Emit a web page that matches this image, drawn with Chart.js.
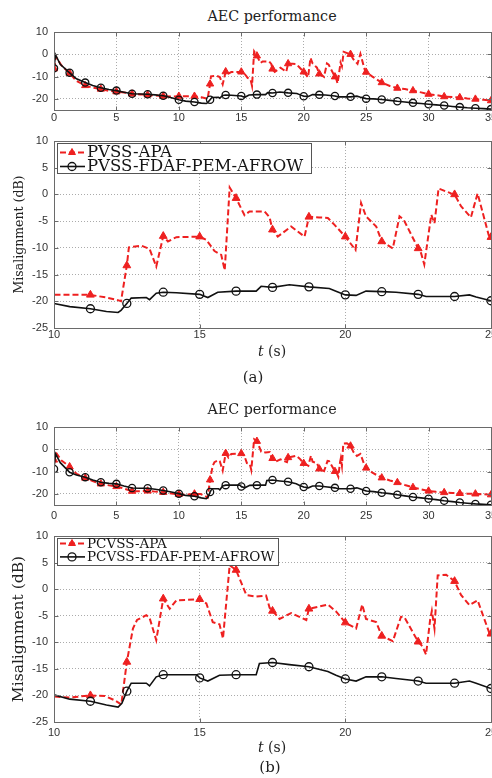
<!DOCTYPE html>
<html>
<head>
<meta charset="utf-8">
<script src="https://cdn.jsdelivr.net/npm/chart.js"></script>
<style>
  html, body { margin: 0; padding: 0; background: #fff; }
  body { width: 492px; height: 778px; overflow: hidden; position: relative; }
  canvas { position: absolute; left: 0; }
  .lbl { position: absolute; width: 260px; margin-left: -130px; height: 20px; line-height: 20px; margin-top: -10px;
         text-align: center; font-family: "DejaVu Serif", serif; color: #222; white-space: nowrap; }
</style>
</head>
<body>
<div class="lbl" style="left:272px;top:16px;font-size:14.3px">AEC performance</div>
<canvas id="a1" width="511" height="128" style="top:0px"></canvas>
<canvas id="a2" width="511" height="234" style="top:128px"></canvas>
<div class="lbl" style="left:272px;top:351px;font-size:14px"><i>t</i> (s)</div>
<div class="lbl" style="left:253px;top:377px;font-size:15px">(a)</div>

<div class="lbl" style="left:272px;top:409px;font-size:14.3px">AEC performance</div>
<canvas id="b1" width="511" height="128" style="top:395px"></canvas>
<canvas id="b2" width="511" height="233" style="top:523px"></canvas>
<div class="lbl" style="left:272px;top:747px;font-size:14px"><i>t</i> (s)</div>
<div class="lbl" style="left:270px;top:767px;font-size:15px">(b)</div>

<script>
// legend names
const labelsA = ['PVSS-APA', 'PVSS-FDAF-PEM-AFROW'];
const labelsB = ['PCVSS-APA', 'PCVSS-FDAF-PEM-AFROW'];

// tick values
const overviewXTicks = [0, 5, 10, 15, 20, 25, 30, 35];
const overviewYTicks = [-20, -10, 0, 10];
const zoomXTicks = [10, 15, 20, 25];
const zoomYTicks = [-25, -20, -15, -10, -5, 0, 5, 10];

// misalignment (dB) vs t (s), case (a)
const apaA = [[0,-6.5],[0.15,-1],[0.6,-5],[1.25,-8.5],[1.8,-12],[2.5,-14],[3.1,-15],[3.75,-15.6],[4.4,-16.4],[5,-16.8],
  [5.6,-17.1],[6.25,-17.8],[6.9,-18],[7.5,-18.2],[8.1,-18.5],[8.75,-18.8],[9.4,-19],[10,-18.8],[10.6,-18.8],[11.25,-18.8],
  [11.8,-19.3],[12.14,-19.7],[12.3,-20],[12.5,-13.3],[12.57,-9.9],[13.0,-9.6],[13.28,-10.2],[13.51,-13.5],[13.75,-7.8],[13.91,-8.8],
  [14.2,-8],[15,-7.9],[15.23,-8.5],[15.51,-10.6],[15.74,-11.3],[15.86,-14.2],[16.03,1.3],[16.25,-0.7],[16.54,-3.9],[16.71,-3.2],
  [17.23,-3.2],[17.4,-4.3],[17.5,-6.6],[17.68,-7.9],[18.14,-6],[18.6,-7.9],[18.75,-4.2],[19.1,-4.3],[19.4,-4.4],[19.63,-5.7],
  [20,-7.9],[20.35,-10.4],[20.54,-1.6],[20.71,-4.1],[21.06,-6],[21.25,-8.8],[21.63,-10.1],[21.86,-4.1],[22.0,-4.7],[22.5,-10.1],
  [22.6,-11],[22.71,-13.1],[22.95,-3.8],[23.06,-5.4],[23.2,1.1],[23.63,0.2],[23.75,0],[23.97,-2.2],[24.31,-4.3],[24.54,0.2],
  [24.92,-7.6],[25,-8],[25.5,-10],[26.25,-12.7],[26.9,-14.2],[27.5,-15.2],[28.1,-15.6],[28.75,-16.3],[29.4,-17.1],[30,-17.9],
  [30.6,-18.3],[31.25,-19],[31.9,-19.2],[32.5,-19.4],[33.1,-19.8],[33.75,-20.1],[34.4,-20.4],[35,-20.8]];
const afrowA = [[0,-6.3],[0.12,-0.2],[0.5,-4.5],[1.25,-8.3],[1.8,-11],[2.5,-12.7],[3.1,-14],[3.75,-15],[4.4,-15.8],[5,-16.3],
  [5.6,-17],[6.25,-17.7],[6.9,-17.8],[7.5,-17.9],[8.1,-18.2],[8.75,-18.6],[9.4,-19.5],[10,-20.4],[10.54,-21],[11.25,-21.4],
  [11.8,-21.9],[12.2,-22.1],[12.3,-21.7],[12.5,-20.4],[12.65,-19.4],[13.17,-19.3],[13.28,-19.7],[13.51,-18.5],[13.75,-18.3],[14.2,-18.4],
  [15,-18.7],[15.28,-19.3],[15.62,-18.3],[16.25,-18.1],[16.94,-18.1],[17.11,-17.2],[17.5,-17.4],[18.08,-16.9],[18.75,-17.3],[19.45,-17.6],
  [19.68,-18.1],[20,-18.8],[20.37,-18.9],[20.71,-18.1],[21.25,-18.2],[21.74,-18.3],[22.5,-18.7],[22.77,-19.1],[23.75,-19.1],[24.26,-18.8],
  [24.49,-19.2],[25,-19.9],[25.6,-20],[26.25,-20.3],[26.9,-20.7],[27.5,-21.1],[28.1,-21.4],[28.75,-21.8],[29.4,-22.1],[30,-22.4],
  [30.6,-22.7],[31.25,-23],[31.9,-23.4],[32.5,-23.7],[33.1,-24],[33.75,-24.2],[34.4,-24.4],[35,-24.6]];

// case (b)
const apaB = [[0,-4.8],[0.12,-1.2],[0.6,-5],[1.25,-7.8],[1.8,-11],[2.5,-12.9],[3.1,-14.3],[3.75,-15.5],[4.4,-16.2],[5,-16.7],
  [5.6,-17.6],[6.25,-18.8],[6.9,-18.8],[7.5,-18.7],[8.1,-19],[8.75,-19.3],[9.4,-19.8],[10,-20.2],[10.54,-20.4],[11.25,-20],
  [11.74,-20.1],[12.08,-20.9],[12.31,-21.7],[12.5,-13.7],[12.71,-7.4],[12.85,-5.8],[13.17,-4.9],[13.28,-5.4],[13.51,-9.6],[13.75,-1.8],
  [13.97,-3.7],[14.2,-2.1],[15,-1.9],[15.23,-2.7],[15.45,-6.2],[15.68,-6.6],[15.8,-9.3],[16.03,4.5],[16.25,3.6],[16.6,-1.1],
  [16.94,-1.4],[17.28,-1.2],[17.4,-3.5],[17.5,-4.1],[17.74,-5.6],[18.14,-4.5],[18.66,-5.8],[18.75,-3.7],[19.4,-2.9],[19.68,-4.2],
  [20,-6.3],[20.37,-7.4],[20.58,-2.9],[20.71,-5.6],[21.06,-6.2],[21.25,-8.8],[21.63,-9.8],[21.91,-5.2],[22.03,-5.3],[22.5,-9.9],
  [22.65,-10.8],[22.77,-12.3],[22.91,-5.8],[22.97,-4.1],[23.06,-7.4],[23.17,2.6],[23.46,2.7],[23.75,1.5],[23.97,-1.1],[24.26,-3],
  [24.54,-2.1],[24.94,-8.2],[25,-8.4],[25.5,-10.5],[26.25,-12.8],[26.9,-14],[27.5,-14.9],[28.1,-16],[28.75,-17.1],[29.4,-18],
  [30,-18.7],[30.6,-19.1],[31.25,-19.4],[31.9,-19.6],[32.5,-19.8],[33.1,-19.9],[33.75,-20],[34.4,-20.2],[35,-20.4]];
const afrowB = [[0,-8.8],[0.12,-2],[0.5,-6],[1.25,-10.3],[1.8,-11.5],[2.5,-12.5],[3.1,-13.8],[3.75,-14.8],[4.4,-15.3],[5,-15.5],
  [5.6,-16.5],[6.25,-17.4],[6.9,-17.5],[7.5,-17.5],[8.1,-17.9],[8.75,-18.5],[9.4,-19.2],[10,-19.9],[10.54,-20.7],[11.25,-21.1],
  [11.8,-21.8],[12.2,-22.2],[12.33,-21.5],[12.5,-19.2],[12.65,-17.7],[13.17,-17.7],[13.28,-18.2],[13.51,-16.5],[13.75,-16.1],[14.9,-16.1],
  [15,-16.7],[15.28,-17.3],[15.68,-16.2],[16.25,-16.1],[16.94,-16.1],[17.05,-14],[17.5,-13.8],[18.08,-14.2],[18.75,-14.6],[19.4,-15.5],
  [19.68,-16.2],[20,-16.9],[20.37,-17.3],[20.71,-16.5],[21.25,-16.5],[21.74,-16.8],[22.5,-17.3],[22.77,-17.7],[23.75,-17.7],[24.26,-17.3],
  [24.49,-17.7],[25,-18.7],[25.6,-19],[26.25,-19.5],[26.9,-19.9],[27.5,-20.4],[28.1,-20.9],[28.75,-21.4],[29.4,-21.8],[30,-22.2],
  [30.6,-22.6],[31.25,-23.1],[31.9,-23.5],[32.5,-23.9],[33.1,-24.2],[33.75,-24.5],[34.4,-24.7],[35,-24.9]];

const RED = '#ee2020';
const INK = '#111111';
const MARK_STEP = 1.25;

function toXY(pts) {
  return pts.map(p => ({ x: p[0], y: p[1] }));
}

function onMarker(t) {
  const k = t / MARK_STEP;
  return Math.abs(k - Math.round(k)) < 1e-6;
}

// box around the axes with small inward ticks
const framePlugin = {
  id: 'frame',
  afterDatasetsDraw(chart) {
    const { ctx, chartArea: a, scales } = chart;
    const L = Math.round(a.left) + 0.5, T = Math.round(a.top) + 0.5;
    const R = Math.round(a.right) + 0.5, B = Math.round(a.bottom) + 0.5;
    ctx.save();
    ctx.strokeStyle = '#6a6a6a';
    ctx.lineWidth = 1;
    ctx.beginPath();
    scales.x.ticks.forEach(t => {
      const px = Math.round(scales.x.getPixelForValue(t.value)) + 0.5;
      ctx.moveTo(px, T); ctx.lineTo(px, T + 4);
      ctx.moveTo(px, B); ctx.lineTo(px, B - 4);
    });
    scales.y.ticks.forEach(t => {
      const py = Math.round(scales.y.getPixelForValue(t.value)) + 0.5;
      ctx.moveTo(L, py); ctx.lineTo(L + 4, py);
      ctx.moveTo(R, py); ctx.lineTo(R - 4, py);
    });
    ctx.stroke();
    ctx.strokeRect(L, T, R - L, B - T);
    ctx.restore();
  }
};

// matlab style legend box in the upper left corner
const legendPlugin = {
  id: 'boxLegend',
  afterDraw(chart, args, opts) {
    const { ctx, chartArea: a } = chart;
    const ds = chart.data.datasets;
    ctx.save();
    ctx.font = opts.size + 'px "DejaVu Serif"';
    const textX = a.left + 33;
    const w = Math.max(...ds.map(d => ctx.measureText(d.label).width));
    const bx = Math.round(a.left) + 3, by = Math.round(a.top) + 2;
    const bw = Math.round(textX + w + opts.padR - bx);
    ctx.fillStyle = '#fff';
    ctx.fillRect(bx, by, bw, opts.height);
    ctx.strokeStyle = '#555';
    ctx.lineWidth = 1;
    ctx.strokeRect(bx + 0.5, by + 0.5, bw, opts.height);
    ds.forEach((d, i) => {
      const cy = by + opts.first + opts.rowH * i;
      ctx.strokeStyle = d.borderColor;
      ctx.lineWidth = d.borderWidth;
      ctx.setLineDash(d.borderDash || []);
      ctx.beginPath();
      ctx.moveTo(a.left + 6, cy);
      ctx.lineTo(a.left + 31, cy);
      ctx.stroke();
      ctx.setLineDash([]);
      ctx.fillStyle = d.pointBackgroundColor;
      ctx.strokeStyle = d.pointBorderColor;
      ctx.lineWidth = d.pointBorderWidth;
      Chart.helpers.drawPoint(ctx, { pointStyle: d.pointStyle, radius: opts.mark, borderWidth: d.pointBorderWidth, rotation: 0 }, a.left + 18, cy);
      ctx.fillStyle = '#151515';
      ctx.textBaseline = 'middle';
      ctx.fillText(d.label, textX, cy + 0.5);
    });
    ctx.restore();
  }
};

function axisCommon(tickPad) {
  return {
    ticks: { padding: tickPad, font: { family: 'Liberation Sans', size: 11 }, color: '#333', maxRotation: 0, autoSkip: false },
    grid: { color: '#ababab', lineWidth: 1, drawTicks: false },
    border: { display: false, dash: [1, 2] }
  };
}

function makeChart(id, o) {
  const radius = r => c => (c.raw && onMarker(c.raw.x) && c.raw.x >= o.markFrom) ? r : 0;
  const xAxis = axisCommon(o.xPad);
  const yAxis = axisCommon(6);
  return new Chart(document.getElementById(id), {
    type: 'line',
    data: {
      datasets: [
        {
          label: o.labels[0], data: toXY(o.red), order: 1, clip: o.clip,
          borderColor: RED, borderWidth: 2, borderDash: [6, 3], tension: 0,
          pointStyle: 'triangle', pointRadius: radius(o.tri), pointBackgroundColor: RED,
          pointBorderColor: RED, pointBorderWidth: 1
        },
        {
          label: o.labels[1], data: toXY(o.black), order: 0, clip: o.clip,
          borderColor: INK, borderWidth: 1.6, tension: 0,
          pointStyle: 'circle', pointRadius: radius(o.circ), pointBackgroundColor: 'rgba(0,0,0,0)',
          pointBorderColor: INK, pointBorderWidth: 1.3
        }
      ]
    },
    options: {
      responsive: false,
      animation: false,
      events: [],
      layout: { padding: { top: o.padTop, right: 20, left: 0, bottom: 0 } },
      plugins: {
        legend: { display: false },
        tooltip: { enabled: false },
        boxLegend: o.legend || false
      },
      scales: {
        x: Object.assign(xAxis, {
          type: 'linear', min: o.xMin, max: o.xMax,
          afterBuildTicks: s => { s.ticks = o.xTicks.map(v => ({ value: v })); },
          afterFit: s => { s.height = o.xAxisH; }
        }),
        y: Object.assign(yAxis, {
          type: 'linear', min: -25, max: 10,
          afterBuildTicks: s => { s.ticks = o.yTicks.map(v => ({ value: v })); },
          afterFit: s => { s.width = 54; },
          title: o.yTitle ? {
            display: true, text: 'Misalignment (dB)', color: '#222',
            font: { family: 'DejaVu Serif', size: o.yTitle.size },
            padding: { top: o.yTitle.pad, bottom: 0 }
          } : { display: false }
        })
      }
    },
    plugins: o.legend ? [framePlugin, legendPlugin] : [framePlugin]
  });
}

makeChart('a1', {
  labels: labelsA, red: apaA, black: afrowA, xMin: 0, xMax: 35, xTicks: overviewXTicks, yTicks: overviewYTicks,
  padTop: 32, xAxisH: 18, xPad: 1, tri: 4.2, circ: 3.6, markFrom: 0, clip: undefined
});
makeChart('a2', {
  labels: labelsA, red: apaA, black: afrowA, xMin: 10, xMax: 25, xTicks: zoomXTicks, yTicks: zoomYTicks,
  padTop: 13, xAxisH: 34, xPad: 0, tri: 4.5, circ: 4, markFrom: 11, clip: 0,
  yTitle: { size: 12.5, pad: 12.5 },
  legend: { size: 16.5, height: 30, first: 9.5, rowH: 14, padR: 8, mark: 4 }
});
makeChart('b1', {
  labels: labelsB, red: apaB, black: afrowB, xMin: 0, xMax: 35, xTicks: overviewXTicks, yTicks: overviewYTicks,
  padTop: 32, xAxisH: 18, xPad: 4, tri: 4.2, circ: 3.6, markFrom: 0, clip: undefined
});
makeChart('b2', {
  labels: labelsB, red: apaB, black: afrowB, xMin: 10, xMax: 25, xTicks: zoomXTicks, yTicks: zoomYTicks,
  padTop: 13, xAxisH: 34, xPad: 4, tri: 4.5, circ: 4, markFrom: 11, clip: 0,
  yTitle: { size: 15.5, pad: 9.7 },
  legend: { size: 13.5, height: 27, first: 5.5, rowH: 13.4, padR: 4, mark: 4 }
});
</script>
</body>
</html>
